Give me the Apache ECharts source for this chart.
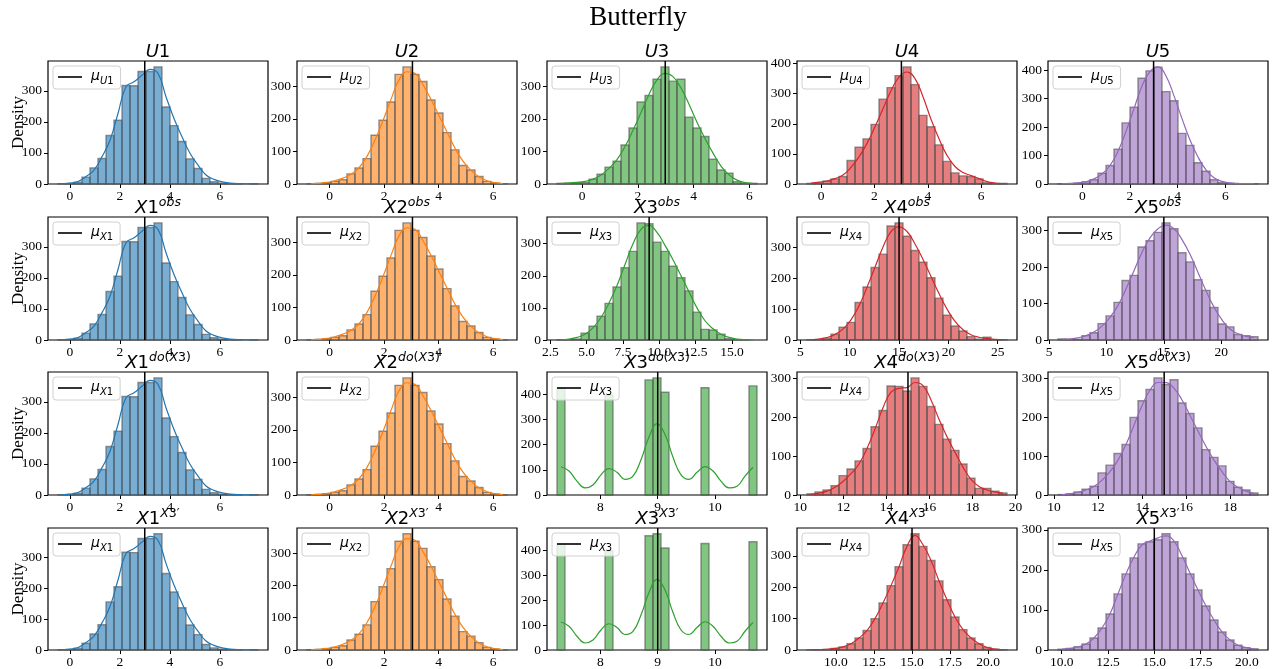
<!DOCTYPE html>
<html><head><meta charset="utf-8">
<script src="https://cdn.jsdelivr.net/npm/echarts@6/dist/echarts.min.js"></script>
<style>html,body{margin:0;padding:0;background:#fff}#c{width:1276px;height:669px}</style>
</head><body><div id="c"></div>
<script>
// ---------- data ----------
const u1Range = [-0.47, 7.53];
const u1Counts = [1,2,6,22,52,82,156,205,317,316,362,362,377,248,188,137,81,50,18,7,3,1,1,0,1];
const u1Kde = [1,3,8,24,45,88,141,227,313,329,350,369,356,281,211,152,99,61,29,15,7,3,1,0.5,0.5];
const u1Mean = 3.0;

const u2Range = [-0.83, 6.51];
const u2Counts = [1,2,4,8,13,31,49,78,150,196,252,337,360,337,315,258,218,158,105,57,43,23,8,3,1];
const u2Kde = [0.5,2,5,10,18,30,50,85,135,195,260,320,345,340,305,260,210,160,110,70,42,22,10,4,1];
const u2Mean = 3.04;

const u3Range = [-0.9, 6.27];
const u3Counts = [2,3,4,5,15,30,52,70,120,172,252,272,322,360,316,322,205,172,146,76,43,33,7,2,2];
const u3Kde = [2,3,5,8,15,28,48,75,115,165,220,275,320,340,330,295,245,190,140,95,55,28,12,4,2];
const u3Mean = 2.98;

const u4Range = [-0.53, 6.97];
const u4Counts = [2,4,10,17,25,78,122,150,198,282,320,360,389,330,228,190,130,75,37,27,25,17,4,2,2];
const u4Kde = [3,6,10,18,30,55,90,135,190,250,310,355,372,350,290,215,150,95,58,38,28,18,8,3,1];
const u4Mean = 3.01;

const u5Range = [-1.02, 7.37];
const u5Counts = [1,1,3,8,15,38,65,122,215,270,372,398,411,325,293,178,136,75,45,15,5,2,1,1,1];
const u5Kde = [1,2,4,8,18,35,65,115,185,265,345,395,412,380,310,230,155,95,50,22,9,4,2,1,1];
const u5Mean = 2.99;

const x3obsRange = [2.96, 16.72];
const x3obsCounts = [1,1,3,21,43,74,114,165,225,276,365,362,305,276,230,194,153,87,33,31,18,4,1,1,0];
const x3obsKde = [1,3,8,18,38,70,115,170,235,300,345,357,335,295,250,200,150,100,60,35,18,8,3,1,0.5];
const x3obsMean = 9.3;

const x4obsRange = [5.67, 25.94];
const x4obsCounts = [1,2,6,19,41,57,121,171,234,277,368,378,335,289,251,201,135,80,45,29,11,3,9,1,1];
const x4obsKde = [1,3,8,18,35,65,110,170,235,300,350,365,350,310,260,205,150,100,60,33,17,9,5,2,1];
const x4obsMean = 15.0;

const x5obsRange = [5.78, 23.2];
const x5obsCounts = [3,1,2,12,20,45,66,103,163,177,255,272,295,321,305,239,214,165,136,89,44,36,15,12,9];
const x5obsKde = [2,3,6,12,22,38,62,95,140,190,240,280,305,315,305,275,235,185,135,90,55,30,17,10,7];
const x5obsMean = 15.0;

const x3doRange = [7.245, 10.73];
const x3doCounts = [424,0,0,0,0,0,397,0,0,0,0,457,465,408,0,0,0,0,426,0,0,0,0,0,433];
const x3doKde = [112,95,55,28,40,80,105,90,62,75,140,230,283,240,150,80,62,90,113,95,55,28,35,75,110];
const x3doMean = 9.0;

const x4doRange = [10.31, 19.6];
const x4doCounts = [3,8,13,24,50,67,88,120,176,218,281,280,268,302,280,228,182,144,115,80,43,17,17,10,5];
const x4doKde = [2,5,10,20,35,55,80,120,170,225,265,275,277,290,282,245,195,150,110,72,40,22,13,8,5];
const x4doMean = 15.0;

const x5doRange = [10.18, 19.26];
const x5doCounts = [1,3,8,15,23,57,77,107,130,200,243,272,302,285,297,237,210,173,117,97,75,35,20,13,5];
const x5doKde = [1,3,7,13,22,38,60,90,130,180,230,270,290,290,275,245,205,165,125,90,60,35,20,10,4];
const x5doMean = 15.0;

const x4cfRange = [8.1, 21.24];
const x4cfCounts = [1,1,2,5,10,20,38,62,100,150,205,265,335,370,330,285,220,160,105,65,38,20,8,3,1];
const x4cfKde = [1,1,2,5,10,20,38,62,100,150,205,265,330,365,335,285,220,160,105,65,38,20,8,3,1];
const x4cfMean = 15.0;

const x5cfRange = [9.8, 20.6];
const x5cfCounts = [2,4,8,15,30,55,90,140,190,230,265,270,275,290,270,230,190,150,110,75,45,25,12,6,3];
const x5cfKde = [2,4,8,15,30,55,90,140,190,232,262,272,280,285,272,235,192,150,110,75,45,25,12,6,3];
const x5cfMean = 15.0;

// tick values / labels
const xTicks0to6 = [0, 2, 4, 6];
const xTicks0to6Labels = ['0', '2', '4', '6'];
const xTicksX3obs = [2.5, 5, 7.5, 10, 12.5, 15];
const xTicksX3obsLabels = ['2.5', '5.0', '7.5', '10.0', '12.5', '15.0'];
const xTicks5to25 = [5, 10, 15, 20, 25];
const xTicks5to25Labels = ['5', '10', '15', '20', '25'];
const xTicks8to10 = [8, 9, 10];
const xTicks8to10Labels = ['8', '9', '10'];
const xTicks10to20by2 = [10, 12, 14, 16, 18, 20];
const xTicks10to20by2Labels = ['10', '12', '14', '16', '18', '20'];
const xTicks10to20by25 = [10, 12.5, 15, 17.5, 20];
const xTicks10to20by25Labels = ['10.0', '12.5', '15.0', '17.5', '20.0'];
const yTicks = [0, 100, 200, 300, 400];

const rowNames = ['U', 'X', 'X', 'X'];
const colors = ['#1f77b4', '#ff7f0e', '#2ca02c', '#d62728', '#9467bd'];

// ---------- table built from the arrays ----------
function ds(range, counts, kde, mean, xt, xl) { return { range, counts, kde, mean, xt, xl }; }
const U1 = ds(u1Range, u1Counts, u1Kde, u1Mean, xTicks0to6, xTicks0to6Labels);
const U2 = ds(u2Range, u2Counts, u2Kde, u2Mean, xTicks0to6, xTicks0to6Labels);
const U3 = ds(u3Range, u3Counts, u3Kde, u3Mean, xTicks0to6, xTicks0to6Labels);
const U4 = ds(u4Range, u4Counts, u4Kde, u4Mean, xTicks0to6, xTicks0to6Labels);
const U5 = ds(u5Range, u5Counts, u5Kde, u5Mean, xTicks0to6, xTicks0to6Labels);
const X3obs = ds(x3obsRange, x3obsCounts, x3obsKde, x3obsMean, xTicksX3obs, xTicksX3obsLabels);
const X4obs = ds(x4obsRange, x4obsCounts, x4obsKde, x4obsMean, xTicks5to25, xTicks5to25Labels);
const X5obs = ds(x5obsRange, x5obsCounts, x5obsKde, x5obsMean, xTicks5to25, xTicks5to25Labels);
const X3do = ds(x3doRange, x3doCounts, x3doKde, x3doMean, xTicks8to10, xTicks8to10Labels);
const X4do = ds(x4doRange, x4doCounts, x4doKde, x4doMean, xTicks10to20by2, xTicks10to20by2Labels);
const X5do = ds(x5doRange, x5doCounts, x5doKde, x5doMean, xTicks10to20by2, xTicks10to20by2Labels);
const X4cf = ds(x4cfRange, x4cfCounts, x4cfKde, x4cfMean, xTicks10to20by25, xTicks10to20by25Labels);
const X5cf = ds(x5cfRange, x5cfCounts, x5cfKde, x5cfMean, xTicks10to20by25, xTicks10to20by25Labels);

const grid4x5 = [
  [U1, U2, U3, U4, U5],
  [U1, U2, X3obs, X4obs, X5obs],
  [U1, U2, X3do, X4do, X5do],
  [U1, U2, X3do, X4cf, X5cf]
];

// ---------- layout ----------
const colLeft = [48, 297, 547, 797, 1048];
const rowTop = [61, 217, 372, 528];
const PW = 220, PH = 123;

const SERIF = 'Liberation Serif';
const MATH = 'DejaVu Sans';

const titleRich = {
  m: { fontFamily: MATH, fontStyle: 'italic', fontSize: 18, lineHeight: 20, verticalAlign: 'bottom', color: '#000' },
  n: { fontFamily: MATH, fontSize: 18, lineHeight: 20, verticalAlign: 'bottom', color: '#000' },
  s: { fontFamily: MATH, fontStyle: 'italic', fontSize: 12.5, lineHeight: 14, padding: [0, 0, 8, 0], verticalAlign: 'bottom', color: '#000' },
  sn: { fontFamily: MATH, fontSize: 12.5, lineHeight: 14, padding: [0, 0, 8, 0], verticalAlign: 'bottom', color: '#000' }
};
const legendRich = {
  mu: { fontFamily: MATH, fontStyle: 'italic', fontSize: 14, lineHeight: 16, verticalAlign: 'top', color: '#000' },
  sb: { fontFamily: MATH, fontStyle: 'italic', fontSize: 10, lineHeight: 11, padding: [7, 0, 0, 0], verticalAlign: 'top', color: '#000' },
  sbn: { fontFamily: MATH, fontSize: 10, lineHeight: 11, padding: [7, 0, 0, 0], verticalAlign: 'top', color: '#000' }
};

function titleText(r, c) {
  const base = '{m|' + rowNames[r] + '}{n|' + (c + 1) + '}';
  if (r === 1) return base + '{s|obs}';
  if (r === 2) return base + '{s|do}{sn|(}{s|X}{sn|3)}';
  if (r === 3) return base + '{s|X}{sn|3′}';
  return base;
}

const grids = [], xAxes = [], yAxes = [], series = [], legends = [], graphics = [];
const legendLabel = {};
let idx = 0;
for (let r = 0; r < 4; r++) {
  for (let c = 0; c < 5; c++) {
    const d = grid4x5[r][c];
    const n = d.counts.length;
    const w = (d.range[1] - d.range[0]) / n;
    const span = d.range[1] - d.range[0];
    const xmin = d.range[0] - 0.05 * span, xmax = d.range[1] + 0.05 * span;
    const ymax = 1.05 * Math.max(Math.max(...d.counts), Math.max(...d.kde));
    const left = colLeft[c], top = rowTop[r];
    grids.push({ left: left, top: top, width: PW, height: PH, show: true, borderColor: '#000', borderWidth: 1.2, backgroundColor: 'transparent' });
    const xt = d.xt.filter(v => v >= xmin && v <= xmax);
    xAxes.push({
      type: 'value', gridIndex: idx, min: xmin, max: xmax,
      axisLine: { show: false, onZero: false }, splitLine: { show: false },
      axisTick: { show: true, inside: false, length: 4, lineStyle: { color: '#000', width: 1 }, customValues: xt },
      axisLabel: { show: true, margin: 5, fontFamily: SERIF, fontSize: 13.5, color: '#000', customValues: xt,
        formatter: v => { const i = d.xt.indexOf(v); return i >= 0 ? d.xl[i] : ''; } }
    });
    const yt = yTicks.filter(v => v <= ymax);
    yAxes.push({
      type: 'value', gridIndex: idx, min: 0, max: ymax,
      axisLine: { show: false, onZero: false }, splitLine: { show: false },
      axisTick: { show: true, inside: false, length: 4, lineStyle: { color: '#000', width: 1 }, customValues: yt },
      axisLabel: { show: true, margin: 6, fontFamily: SERIF, fontSize: 13.5, color: '#000', customValues: yt },
      name: c === 0 ? 'Density' : '', nameLocation: 'middle', nameGap: 21, nameMoveOverlap: false,
      nameTextStyle: { fontFamily: SERIF, fontSize: 17, color: '#000' }
    });
    const col = colors[c];
    const bars = d.counts.map((v, k) => [d.range[0] + k * w, d.range[0] + (k + 1) * w, v]).filter(b => b[2] > 0);
    series.push({
      type: 'custom', xAxisIndex: idx, yAxisIndex: idx, silent: true, z: 2,
      data: bars, encode: { x: [0, 1], y: 2 },
      renderItem: (params, api) => {
        const p0 = api.coord([api.value(0), 0]);
        const p1 = api.coord([api.value(1), api.value(2)]);
        return { type: 'rect', shape: { x: p0[0], y: p1[1], width: p1[0] - p0[0], height: p0[1] - p1[1] },
          style: { fill: col, opacity: 0.6, stroke: '#505050', lineWidth: 1.4 } };
      }
    });
    series.push({
      type: 'line', xAxisIndex: idx, yAxisIndex: idx, silent: true, z: 3,
      data: d.kde.map((v, k) => [d.range[0] + (k + 0.5) * w, v]),
      smooth: 0.45, showSymbol: false, symbol: 'none',
      lineStyle: { color: col, width: 1.2 }, itemStyle: { color: col }
    });
    const mname = 'mu' + idx;
    legendLabel[mname] = '{mu|μ}{sb|' + rowNames[r] + '}{sbn|' + (c + 1) + '}';
    series.push({
      type: 'line', name: mname, xAxisIndex: idx, yAxisIndex: idx, silent: true, z: 4,
      data: [[d.mean, 0], [d.mean, ymax]], symbol: 'none', showSymbol: false,
      lineStyle: { color: '#000', width: 1.5 }, itemStyle: { color: '#000' }
    });
    legends.push({
      data: [{ name: mname, icon: 'rect' }], left: left + 5, top: top + 5, orient: 'vertical',
      itemWidth: 24, itemHeight: 1.6, itemGap: 0, selectedMode: false,
      padding: [3, 7, 3, 5], borderColor: '#d0d0d0', borderWidth: 1, borderRadius: 3,
      backgroundColor: 'rgba(255,255,255,0.8)',
      formatter: nm => legendLabel[nm],
      textStyle: { rich: legendRich, padding: [0, 0, 0, 4] }
    });
    graphics.push({
      type: 'text', x: left + PW / 2, y: top, z: 10, silent: true,
      style: { text: titleText(r, c), rich: titleRich, align: 'center', verticalAlign: 'bottom' }
    });
    idx++;
  }
}
graphics.push({
  type: 'text', x: 638, y: 18, silent: true,
  style: { text: 'Butterfly', fontFamily: SERIF, fontSize: 27, fill: '#000', align: 'center', verticalAlign: 'middle' }
});

const chart = echarts.init(document.getElementById('c'), null, { renderer: 'canvas' });
chart.setOption({
  animation: false,
  backgroundColor: '#fff',
  grid: grids, xAxis: xAxes, yAxis: yAxes, series: series, legend: legends, graphic: graphics
});
</script></body></html>
